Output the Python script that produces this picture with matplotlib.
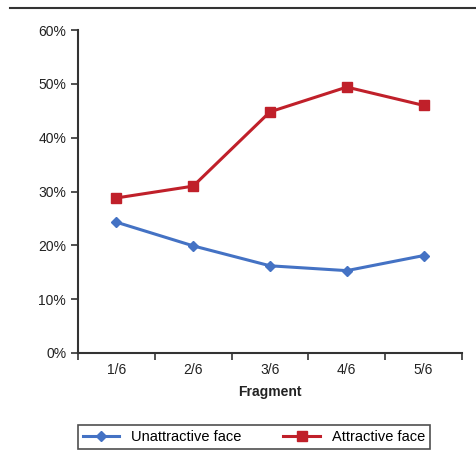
import matplotlib.pyplot as plt
from matplotlib.lines import Line2D
from matplotlib.ticker import FuncFormatter, MultipleLocator

plt.rcParams['font.family'] = ['Liberation Sans', 'DejaVu Sans']

fragments = ['1/6', '2/6', '3/6', '4/6', '5/6']
unattractive = [24.3, 19.9, 16.2, 15.3, 18.1]
attractive = [28.8, 31.0, 44.8, 49.4, 46.0]

fig = plt.figure(figsize=(4.77, 4.55), dpi=100)
ax = fig.add_axes([0.1635, 0.2242, 0.805, 0.7098])

x = range(len(fragments))
ax.plot(x, unattractive, color='#4472c4', lw=2.2, marker='D', ms=5,
        label='Unattractive face')
ax.plot(x, attractive, color='#c0202a', lw=2.2, marker='s', ms=6.5,
        label='Attractive face')

ax.set_xlim(-0.5, len(fragments) - 0.5)
ax.set_ylim(0, 60)
ax.yaxis.set_major_locator(MultipleLocator(10))
ax.yaxis.set_major_formatter(FuncFormatter(lambda v, p: f'{v:.0f}%'))

ax.set_xticks([i - 0.5 for i in range(len(fragments) + 1)])
ax.set_xticklabels([])
ax.set_xticks(list(x), minor=True)
ax.set_xticklabels(fragments, minor=True)
ax.tick_params(axis='x', which='major', length=5, width=1.2, color='#333333')
ax.tick_params(axis='x', which='minor', length=0, pad=7, labelsize=10, labelcolor='#222222')
ax.tick_params(axis='y', length=5, width=1.2, color='#333333', labelsize=10, labelcolor='#222222')

for s in ['top', 'right']:
    ax.spines[s].set_visible(False)
for s in ['left', 'bottom']:
    ax.spines[s].set_linewidth(1.5)
    ax.spines[s].set_color('#333333')

ax.set_xlabel('Fragment', fontweight='bold', fontsize=10, labelpad=6, color='#222222')

leg = fig.legend(loc='center', bbox_to_anchor=(0.532, 0.0396), ncol=2, frameon=True,
                 fancybox=False, edgecolor='#222222', fontsize=10.5, handlelength=2.5,
                 columnspacing=2.9, borderpad=0.35)
leg.get_frame().set_linewidth(1.2)

fig.add_artist(Line2D([0.02, 1.0], [0.982, 0.982], color='#333333', lw=1.5,
                      transform=fig.transFigure))

fig.savefig('out.png', dpi=100)
